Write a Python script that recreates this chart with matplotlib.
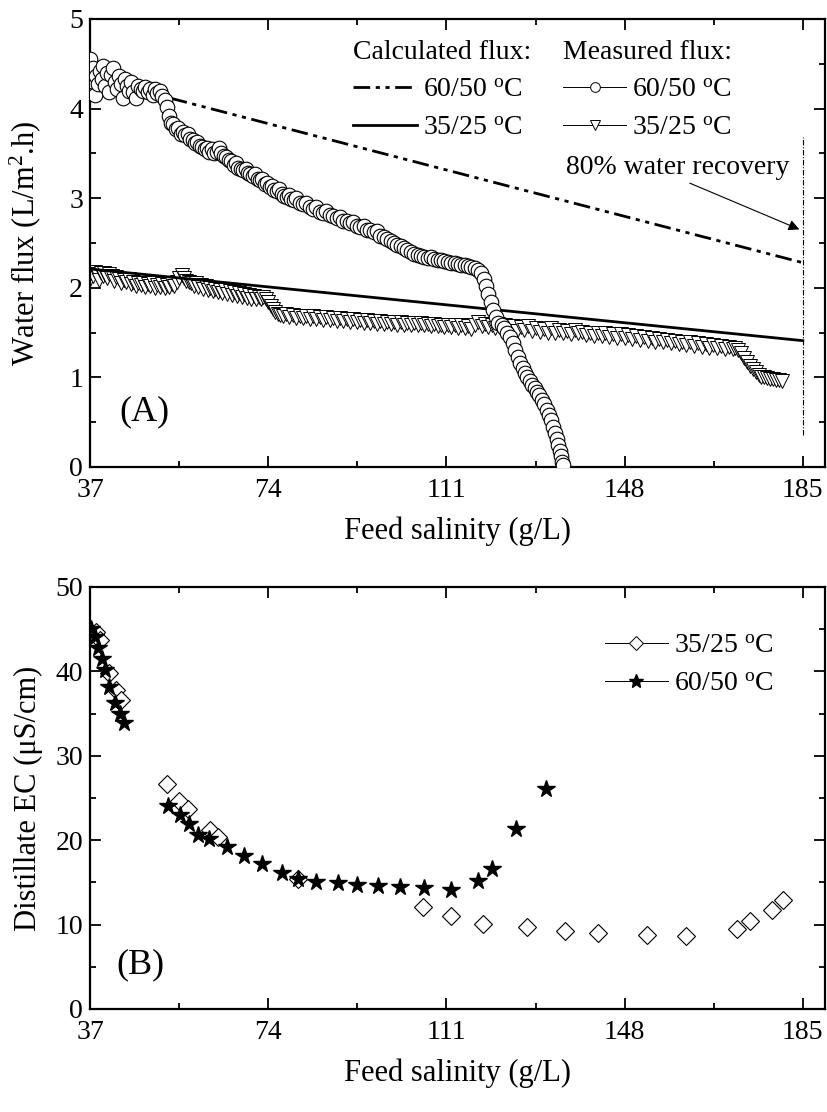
import numpy as np
import matplotlib
matplotlib.use('Agg')
import matplotlib.pyplot as plt
from matplotlib.lines import Line2D
from matplotlib.ticker import MultipleLocator

plt.rcParams['font.family'] = ['Liberation Serif', 'DejaVu Serif']
plt.rcParams['mathtext.fontset'] = 'custom'
plt.rcParams['mathtext.rm'] = 'Liberation Serif'
plt.rcParams['mathtext.it'] = 'Liberation Serif:italic'

# ---- panel A: water flux ----
calc_x = [37, 185]
calc_6050 = [4.35, 2.28]
calc_3525 = [2.21, 1.41]

meas_6050_x = [37.0, 37.2, 37.4, 37.6, 37.8, 38.0, 38.3, 38.6, 39.0, 39.4, 39.8, 40.2, 40.6, 41.0, 41.4,
               41.8, 42.2, 42.6, 43.0, 43.4, 43.8, 44.2, 44.6, 45.0, 45.5, 46.0, 46.5, 47.0, 47.5, 48.0,
               48.5, 49.0, 49.5, 50.0, 50.5, 51.0, 51.5, 52.0, 52.5, 53.0, 53.4, 53.8, 54.3, 54.8, 55.3,
               55.8, 56.3, 56.8, 57.3, 57.8, 58.3, 58.8, 59.3, 59.8, 60.3, 60.8, 61.3, 61.8, 62.3, 62.8,
               63.3, 63.8, 64.3, 64.8, 65.3, 65.8, 66.3, 66.8, 67.3, 67.8, 68.3, 68.8, 69.3, 69.8, 70.3,
               70.8, 71.3, 71.8, 72.3, 72.8, 73.3, 73.8, 74.3, 74.8, 75.3, 75.8, 76.3, 76.8, 77.3, 77.8,
               78.3, 78.8, 79.3, 79.8, 80.5, 81.2, 81.9, 82.6, 83.3, 84.0, 84.7, 85.4, 86.1, 86.8, 87.5,
               88.2, 88.9, 89.6, 90.3, 91.0, 91.7, 92.4, 93.1, 93.8, 94.5, 95.2, 95.9, 96.6, 97.3, 98.0,
               98.7, 99.4, 100.1, 100.8, 101.5, 102.2, 102.9, 103.6, 104.3, 105.0, 105.7, 106.4, 107.1,
               107.8, 108.5, 109.2, 109.9, 110.6, 111.3, 112.0, 112.7, 113.4, 114.1, 114.8, 115.5, 116.2,
               116.9, 117.6, 118.2, 118.7, 119.2, 119.7, 120.2, 120.7, 121.2, 121.8, 122.5, 123.0, 123.6,
               124.2, 124.8, 125.3, 125.8, 126.3, 126.8, 127.3, 127.8, 128.3, 128.8, 129.3, 129.8, 130.3,
               130.8, 131.3, 131.8, 132.3, 132.7, 133.1, 133.5, 133.9, 134.2, 134.5, 134.8, 135.0, 135.2]
meas_6050 = [4.55, 4.18, 4.38, 4.45, 4.30, 4.15, 4.36, 4.28, 4.42, 4.33, 4.48, 4.25, 4.40, 4.18, 4.38,
             4.45, 4.30, 4.22, 4.36, 4.28, 4.12, 4.33, 4.25, 4.20, 4.30, 4.18, 4.12, 4.25, 4.22, 4.20,
             4.24, 4.18, 4.22, 4.15, 4.22, 4.17, 4.20, 4.14, 4.10, 4.02, 3.92, 3.84, 3.83, 3.77, 3.78,
             3.72, 3.74, 3.70, 3.72, 3.66, 3.65, 3.62, 3.63, 3.58, 3.57, 3.55, 3.56, 3.52, 3.55, 3.50,
             3.52, 3.56, 3.51, 3.47, 3.46, 3.43, 3.41, 3.37, 3.39, 3.34, 3.33, 3.31, 3.33, 3.28, 3.27,
             3.25, 3.27, 3.21, 3.20, 3.21, 3.16, 3.17, 3.12, 3.14, 3.09, 3.08, 3.10, 3.05, 3.03, 3.01,
             3.04, 2.99, 2.98, 3.00, 2.95, 2.93, 2.95, 2.90, 2.88, 2.90, 2.85, 2.84, 2.86, 2.81, 2.80,
             2.78, 2.79, 2.75, 2.74, 2.72, 2.73, 2.69, 2.68, 2.69, 2.65, 2.64, 2.62, 2.63, 2.58, 2.57,
             2.55, 2.52, 2.50, 2.48, 2.47, 2.44, 2.42, 2.40, 2.38, 2.37, 2.35, 2.34, 2.33,
             2.34, 2.32, 2.31, 2.31, 2.30, 2.29, 2.28, 2.28, 2.27, 2.26, 2.25, 2.24, 2.23,
             2.22, 2.20, 2.16, 2.10, 2.02, 1.93, 1.84, 1.75, 1.67, 1.61, 1.58, 1.55, 1.50,
             1.45, 1.38, 1.31, 1.23, 1.16, 1.10, 1.05, 1.00, 0.96, 0.92, 0.88, 0.84, 0.80,
             0.75, 0.70, 0.64, 0.58, 0.52, 0.45, 0.38, 0.31, 0.25, 0.18, 0.12, 0.06, 0.02]

meas_3525_x = [37.0, 37.3, 37.6, 38.0, 38.4, 38.8, 39.2, 39.6, 40.0, 40.5, 41.0, 41.5, 42.0, 42.5, 43.0,
               43.5, 44.0, 44.5, 45.0, 45.5, 46.0, 46.5, 47.0, 47.5, 48.0, 48.5, 49.0, 49.5, 50.0, 50.5,
               51.0, 51.5, 52.0, 52.5, 53.0, 53.5, 54.0, 54.5, 55.0, 55.5, 56.0, 56.5, 57.0, 57.5, 58.0,
               58.5, 59.0, 59.5, 60.0, 60.5, 61.0, 61.5, 62.0, 62.5, 63.0, 63.5, 64.0, 64.5, 65.0, 65.5,
               66.0, 66.5, 67.0, 67.5, 68.0, 68.5, 69.0, 69.5, 70.0, 70.5, 71.0, 71.5, 72.0, 72.5, 73.0,
               73.5, 74.0, 74.5, 75.0, 75.5, 76.0, 76.5, 77.0, 77.7, 78.4, 79.1, 79.8, 80.5, 81.2, 81.9,
               82.6, 83.3, 84.0, 84.7, 85.4, 86.1, 86.8, 87.5, 88.2, 88.9, 89.6, 90.3, 91.0, 91.7, 92.4,
               93.1, 93.8, 94.5, 95.2, 95.9, 96.6, 97.3, 98.0, 98.7, 99.4, 100.1, 100.8, 101.5, 102.2,
               102.9, 103.6, 104.3, 105.0, 105.7, 106.4, 107.1, 107.8, 108.5, 109.2, 109.9, 110.6, 111.3,
               112.0, 112.7, 113.4, 114.1, 114.8, 115.5, 116.2, 116.9, 117.6, 118.3, 119.0, 119.7, 120.4,
               121.1, 121.8, 122.5, 123.2, 124.0, 124.8, 125.6, 126.4, 127.2, 128.0, 128.8, 129.6, 130.4,
               131.2, 132.0, 132.8, 133.6, 134.4, 135.2, 136.0, 136.8, 137.6, 138.4, 139.2, 140.0, 140.8,
               141.6, 142.4, 143.2, 144.0, 144.8, 145.6, 146.4, 147.2, 148.0, 148.8, 149.6, 150.4, 151.2,
               152.0, 152.8, 153.6, 154.4, 155.2, 156.0, 156.8, 157.6, 158.4, 159.2, 160.0, 160.8, 161.6,
               162.4, 163.2, 164.0, 164.8, 165.6, 166.4, 167.2, 168.0, 168.8, 169.6, 170.4, 171.0, 171.6,
               172.2, 172.8, 173.4, 174.0, 174.6, 175.2, 175.8, 176.4, 177.0, 177.6, 178.2, 178.8, 179.4,
               180.0, 180.6]
meas_3525 = [2.10, 2.17, 2.13, 2.18, 2.15, 2.09, 2.16, 2.13, 2.17, 2.11, 2.15, 2.13, 2.08, 2.12, 2.10,
             2.05, 2.09, 2.06, 2.10, 2.04, 2.07, 2.02, 2.05, 2.03, 2.05, 2.01, 2.04, 2.02, 2.05, 2.00,
             2.03, 2.01, 2.04, 2.00, 2.03, 2.01, 2.04, 2.02, 2.06, 2.11, 2.14, 2.11, 2.08, 2.06, 2.05,
             2.02, 2.05, 2.01, 2.03, 1.99, 2.02, 1.98, 2.00, 1.96, 1.99, 1.95, 1.97, 1.94, 1.97, 1.93,
             1.96, 1.92, 1.95, 1.91, 1.94, 1.90, 1.93, 1.89, 1.92, 1.88, 1.91, 1.88, 1.90, 1.88, 1.90,
             1.87, 1.84, 1.80, 1.76, 1.73, 1.71, 1.70, 1.69, 1.71, 1.67, 1.70, 1.66, 1.69, 1.66, 1.68,
             1.65, 1.68, 1.65, 1.67, 1.64, 1.67, 1.64, 1.66, 1.63, 1.66, 1.63, 1.65, 1.62, 1.65, 1.62,
             1.64, 1.61, 1.64, 1.61, 1.63, 1.60, 1.63, 1.60, 1.62, 1.60, 1.62, 1.59, 1.62, 1.59,
             1.61, 1.59, 1.61, 1.58, 1.61, 1.58, 1.60, 1.57, 1.60, 1.57, 1.59, 1.56, 1.59,
             1.56, 1.58, 1.55, 1.58, 1.55, 1.57, 1.54, 1.58, 1.62, 1.57, 1.60, 1.56, 1.59,
             1.55, 1.60, 1.54, 1.58, 1.53, 1.57, 1.52, 1.56, 1.53, 1.57, 1.52, 1.55, 1.51,
             1.54, 1.50, 1.55, 1.50, 1.53, 1.49, 1.52, 1.48, 1.53, 1.49, 1.51, 1.47, 1.50,
             1.46, 1.50, 1.46, 1.49, 1.45, 1.48, 1.44, 1.48, 1.44, 1.47, 1.43, 1.46, 1.42,
             1.45, 1.41, 1.44, 1.40, 1.43, 1.39, 1.42, 1.38, 1.41, 1.37, 1.40, 1.36, 1.39,
             1.35, 1.38, 1.34, 1.37, 1.33, 1.36, 1.33, 1.35, 1.32, 1.34, 1.32, 1.33, 1.31,
             1.27, 1.22, 1.17, 1.13, 1.09, 1.06, 1.03, 1.01, 1.00, 0.99, 0.98, 0.98, 0.97,
             0.97, 0.96]

# ---- panel B: distillate EC ----
ec_3525_x = [38.2, 39.0, 40.9, 42.5, 43.5, 52.9, 55.5, 57.3, 61.9, 63.6, 80.2, 106.1, 112.0, 118.6,
             127.7, 135.6, 142.4, 152.6, 160.7, 171.3, 174.0, 178.5, 180.8]
ec_3525 = [44.7, 43.7, 39.8, 37.8, 36.6, 26.6, 24.7, 23.7, 21.2, 20.4, 15.4, 12.1, 11.0, 10.1,
           9.7, 9.2, 9.0, 8.8, 8.6, 9.5, 10.4, 11.7, 12.9]
ec_6050_x = [37.3, 38.0, 38.6, 39.5, 40.1, 41.0, 42.2, 43.2, 44.1, 53.2, 55.7, 57.5, 59.4, 61.7,
             65.5, 69.0, 72.7, 76.8, 80.2, 83.9, 88.5, 92.4, 96.8, 101.3, 106.3, 111.9, 117.5,
             120.4, 125.4, 131.6]
ec_6050 = [45.0, 44.1, 42.8, 41.5, 40.2, 38.1, 36.2, 34.9, 33.9, 24.1, 23.0, 21.9, 20.6, 20.1,
           19.2, 18.1, 17.2, 16.1, 15.4, 15.1, 14.9, 14.7, 14.6, 14.4, 14.3, 14.1, 15.2,
           16.6, 21.3, 26.1]

xticks = [37, 74, 111, 148, 185]
label_fs = 22
tick_fs = 20
leg_fs = 20

fig = plt.figure(figsize=(8.27, 11.12), dpi=100)
ax1 = fig.add_axes([90 / 827, 1 - 467 / 1112, 735 / 827, 448 / 1112])
ax2 = fig.add_axes([90 / 827, 1 - 1009 / 1112, 735 / 827, 422 / 1112])

dashdotdot = (0, (6, 2, 1.5, 2, 1.5, 2))

for ax in (ax1, ax2):
    ax.set_xlim(37, 189.6)
    ax.set_xticks(xticks)
    ax.xaxis.set_minor_locator(MultipleLocator(18.5))
    ax.tick_params(which='both', direction='in', top=True, right=True, labelsize=tick_fs, width=1.3)
    ax.tick_params(which='major', length=8)
    ax.tick_params(which='minor', length=4)
    ax.tick_params(axis='x', which='major', pad=8)
    ax.tick_params(axis='y', which='major', pad=5)
    for s in ax.spines.values():
        s.set_linewidth(1.6)
    ax.set_xlabel('Feed salinity (g/L)', fontsize=label_fs, labelpad=10)
    ax.yaxis.set_label_coords(-0.064, 0.5)

# panel A
ax1.set_ylim(0, 5)
ax1.yaxis.set_major_locator(MultipleLocator(1))
ax1.yaxis.set_minor_locator(MultipleLocator(0.5))
ax1.set_ylabel('Water flux (L/m$^{2}$.h)', fontsize=label_fs)

ax1.plot(meas_3525_x, meas_3525, linestyle='none', marker='v', markersize=10,
         markerfacecolor='white', markeredgecolor='black', markeredgewidth=0.7, zorder=2)
ax1.plot(calc_x, calc_3525, color='black', linewidth=2, zorder=3)
ax1.plot(calc_x, calc_6050, color='black', linewidth=2, linestyle=dashdotdot, zorder=3)
ax1.plot(meas_6050_x, meas_6050, linestyle='none', marker='o', markersize=10.5,
         markerfacecolor='white', markeredgecolor='black', markeredgewidth=0.8, zorder=4)

ax1.plot([185, 185], [0.36, 3.68], color='black', linewidth=0.8,
         linestyle=(0, (5, 1.5, 1, 1.5)), zorder=1)
ax1.annotate('', xy=(184.8, 2.64), xytext=(161, 3.18),
             arrowprops=dict(arrowstyle='-|>', color='black', lw=0.8, mutation_scale=16))
ax1.text(159, 3.34, '80% water recovery', fontsize=leg_fs, ha='center', va='center')
ax1.text(48.2, 0.62, '(A)', fontsize=26, ha='center', va='center')

calc_handles = [Line2D([], [], color='black', lw=2, linestyle=dashdotdot),
                Line2D([], [], color='black', lw=2)]
leg1 = ax1.legend(calc_handles, ['60/50 $^{\\mathrm{o}}$C', '35/25 $^{\\mathrm{o}}$C'],
                  title='Calculated flux:', title_fontsize=leg_fs, fontsize=leg_fs,
                  loc='upper left', bbox_to_anchor=(0.358, 0.953), frameon=False,
                  handlelength=2.3, handletextpad=0.2, labelspacing=0.45,
                  alignment='left', borderaxespad=0, borderpad=0)
ax1.add_artist(leg1)
meas_handles = [Line2D([], [], color='black', lw=0.7, marker='o', markersize=7,
                       markerfacecolor='white', markeredgewidth=0.7),
                Line2D([], [], color='black', lw=0.7, marker='v', markersize=7,
                       markerfacecolor='white', markeredgewidth=0.7)]
ax1.legend(meas_handles, ['60/50 $^{\\mathrm{o}}$C', '35/25 $^{\\mathrm{o}}$C'],
           title='Measured flux:', title_fontsize=leg_fs, fontsize=leg_fs,
           loc='upper left', bbox_to_anchor=(0.643, 0.953), frameon=False,
           handlelength=2.3, handletextpad=0.2, labelspacing=0.45,
           alignment='left', borderaxespad=0, borderpad=0)

# panel B
ax2.set_ylim(0, 50)
ax2.yaxis.set_major_locator(MultipleLocator(10))
ax2.yaxis.set_minor_locator(MultipleLocator(5))
ax2.set_ylabel('Distillate EC (\u03bcS/cm)', fontsize=label_fs)

ax2.plot(ec_3525_x, ec_3525, linestyle='none', marker='D', markersize=9,
         markerfacecolor='white', markeredgecolor='black', markeredgewidth=0.8)
ax2.plot(ec_6050_x, ec_6050, linestyle='none', marker='*', markersize=13, color='black')
ax2.text(47.4, 5.2, '(B)', fontsize=26, ha='center', va='center')

ec_handles = [Line2D([], [], color='black', lw=0.7, marker='D', markersize=7,
                     markerfacecolor='white', markeredgewidth=0.7),
              Line2D([], [], color='black', lw=0.7, marker='*', markersize=10)]
ax2.legend(ec_handles, ['35/25 $^{\\mathrm{o}}$C', '60/50 $^{\\mathrm{o}}$C'],
           fontsize=leg_fs, loc='upper left', bbox_to_anchor=(0.70, 0.89), frameon=False,
           handlelength=2.3, handletextpad=0.2, labelspacing=0.45,
           borderaxespad=0, borderpad=0)

fig.savefig('out.png', dpi=100)
